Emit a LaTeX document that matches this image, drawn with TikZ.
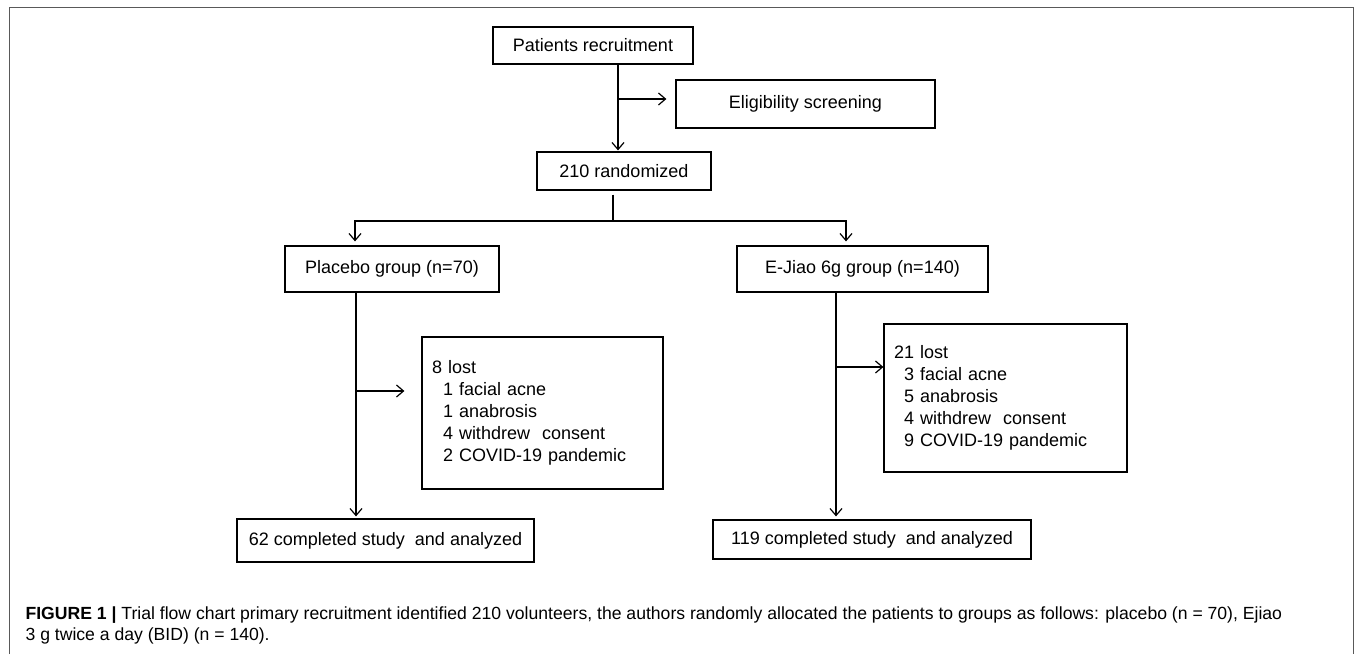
\documentclass[tikz,border=0pt]{standalone}
\usepackage{fontspec}
\setmainfont{Liberation Sans}
\usetikzlibrary{arrows.meta}

\begin{document}
\begin{tikzpicture}[x=1pt,y=-1pt,->,>={Straight Barb[length=7pt,width=12pt]},
	line width=1.2pt,font=\fontsize{18}{22}\selectfont]
	\tikzstyle{box}=[draw=black,rectangle,inner sep=0pt,align=center]
	\tikzstyle{lostbox}=[draw=black,rectangle,inner xsep=10pt,inner ysep=0pt,align=left]
	
	\fill[white] (0,0) rectangle (1355,654);
	\draw[-,black!65,line width=1pt] (9,654) -- (9,8) -- (1353,8) -- (1353,654);
	
	\node[box,minimum width=200pt,minimum height=37pt] (recruit) at (593,45.5) {Patients recruitment};
	\node[box,minimum width=259pt,minimum height=48pt] (elig) at (805.5,104) {Eligibility screening};
	\node[box,minimum width=174pt,minimum height=38pt] (rand) at (624,171) {210 randomized};
	\node[box,minimum width=214pt,minimum height=46pt] (placebo) at (392,269) {Placebo group (n=70)};
	\node[box,minimum width=251pt,minimum height=46pt] (ejiao) at (862.5,269) {E-Jiao 6g group (n=140)};
	\node[lostbox,text width=221pt,minimum height=152pt] (lost1) at (542.5,413)
		{8 lost\\ \hspace*{11pt}1 facial acne\\ \hspace*{11pt}1 anabrosis\\
		 \hspace*{11pt}4 withdrew\ \ consent\\ \hspace*{11pt}2 COVID-19 pandemic};
	\node[lostbox,text width=223pt,minimum height=148pt] (lost2) at (1005.5,398)
		{21 lost\\ \hspace*{10pt}3 facial acne\\ \hspace*{10pt}5 anabrosis\\
		 \hspace*{10pt}4 withdrew\ \ consent\\ \hspace*{10pt}9 COVID-19 pandemic};
	\node[box,minimum width=297pt,minimum height=43pt] (done1) at (385.5,540.5) {62 completed study\ \ and analyzed};
	\node[box,minimum width=318pt,minimum height=39pt] (done2) at (872,539.5) {119 completed study\ \ and analyzed};
	
	\coordinate (eligfork) at (618,99);
	\coordinate (split) at (613,221);
	\coordinate (fork1) at (356,391);
	\coordinate (fork2) at (836,367);
	
	\draw[shorten >=1pt] ([xshift=25pt]recruit.south) -- ([xshift=-6pt]rand.north);
	\draw[shorten >=9pt] (eligfork) -- (eligfork -| elig.west);
	\draw[-,shorten <=4pt] ([xshift=-11pt]rand.south) -- (split);
	\draw[shorten >=4pt] (split) -| ([xshift=-37pt]placebo.north);
	\draw[shorten >=4pt] (split) -| ([xshift=-16.5pt]ejiao.north);
	
	\draw[shorten >=2pt] ([xshift=-36pt]placebo.south) -- ([xshift=-36pt]placebo.south |- done1.north);
	\draw[shorten >=17pt] (fork1) -- (fork1 -| lost1.west);
	\draw[shorten >=3pt] ([xshift=-26.5pt]ejiao.south) -- ([xshift=-26.5pt]ejiao.south |- done2.north);
	\draw (fork2) -- (fork2 -| lost2.west);
	
	\node[anchor=base west,align=left,inner sep=0pt,font=\fontsize{17.6}{21}\selectfont] (caption) at (25,640)
		{\textbf{FIGURE 1 |} Trial flow chart primary recruitment identified 210 volunteers, the authors randomly allocated the patients to groups as follows: placebo (n = 70), Ejiao\\
		3 g twice a day (BID) (n = 140).};
\end{tikzpicture}
\end{document}
